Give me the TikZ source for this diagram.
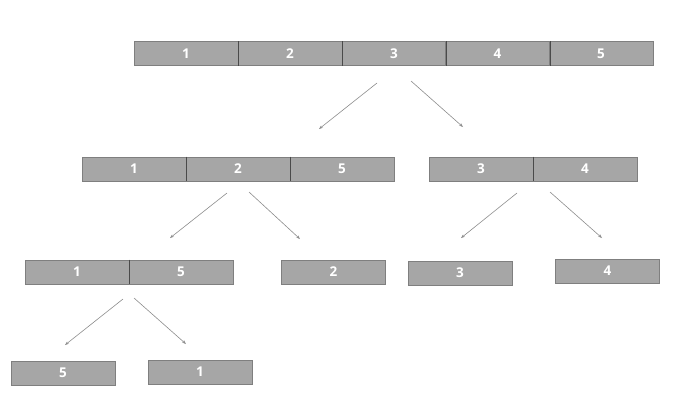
\documentclass[tikz,border=0pt]{standalone}
\usepackage{fontspec}
\setmainfont{Open Sans}
\usetikzlibrary{arrows.meta}
\definecolor{cellfill}{HTML}{A6A6A6}
\definecolor{cellline}{HTML}{7F7F7F}
\definecolor{divline}{HTML}{4A4A4A}
\definecolor{arrowc}{HTML}{8C8C8C}
\tikzset{
  cell/.style={draw=cellline, fill=cellfill, line width=0.9pt, minimum width=104pt, minimum height=24pt,
    inner sep=0pt, text=white, font=\fontsize{13.5}{15}\selectfont\bfseries},
  divider/.style={draw=divline, line width=0.9pt},
  arr/.style={draw=arrowc, line width=0.6pt, -{Stealth[length=4pt,width=3pt]}}
}
\begin{document}
\begin{tikzpicture}[x=1pt,y=-1pt]
\useasboundingbox (0,0) rectangle (695,416);
% top row
\node[cell] (a1) at (186,53.5) {1};
\node[cell] (a2) at (290,53.5) {2};
\node[cell] (a3) at (394,53.5) {3};
\node[cell] (a4) at (497.5,53.5) {4};
\node[cell] (a5) at (601,53.5) {5};
\foreach \n in {a1,a2,a3,a4} \draw[divider] (\n.north east) -- (\n.south east);
% second row
\node[cell] (b1) at (134,169) {1};
\node[cell] (b2) at (238,169) {2};
\node[cell] (b5) at (342,169) {5};
\foreach \n in {b1,b2} \draw[divider] (\n.north east) -- (\n.south east);
\node[cell] (c3) at (481,169) {3};
\node[cell] (c4) at (585,169) {4};
\draw[divider] (c3.north east) -- (c3.south east);
% third row
\node[cell] (d1) at (77,272) {1};
\node[cell] (d5) at (181,272) {5};
\draw[divider] (d1.north east) -- (d1.south east);
\node[cell] (e2) at (333.5,272) {2};
\node[cell] (f3) at (460,273) {3};
\node[cell] (g4) at (607.5,271) {4};
% fourth row
\node[cell] (h5) at (63,373) {5};
\node[cell] (h1) at (200,372) {1};
% arrow ends
\coordinate (s1) at (377,83);  \coordinate (t1) at (319,129);
\coordinate (s2) at (411,81);  \coordinate (t2) at (463,127);
\coordinate (s3) at (227,193); \coordinate (t3) at (170,238);
\coordinate (s4) at (249,192); \coordinate (t4) at (300,239);
\coordinate (s5) at (517,193); \coordinate (t5) at (461,238);
\coordinate (s6) at (550,192); \coordinate (t6) at (602,238);
\coordinate (s7) at (123,299); \coordinate (t7) at (65,345);
\coordinate (s8) at (134,298); \coordinate (t8) at (186,344);
\foreach \i in {1,...,8} \draw[arr] (s\i) -- (t\i);
\end{tikzpicture}
\end{document}
